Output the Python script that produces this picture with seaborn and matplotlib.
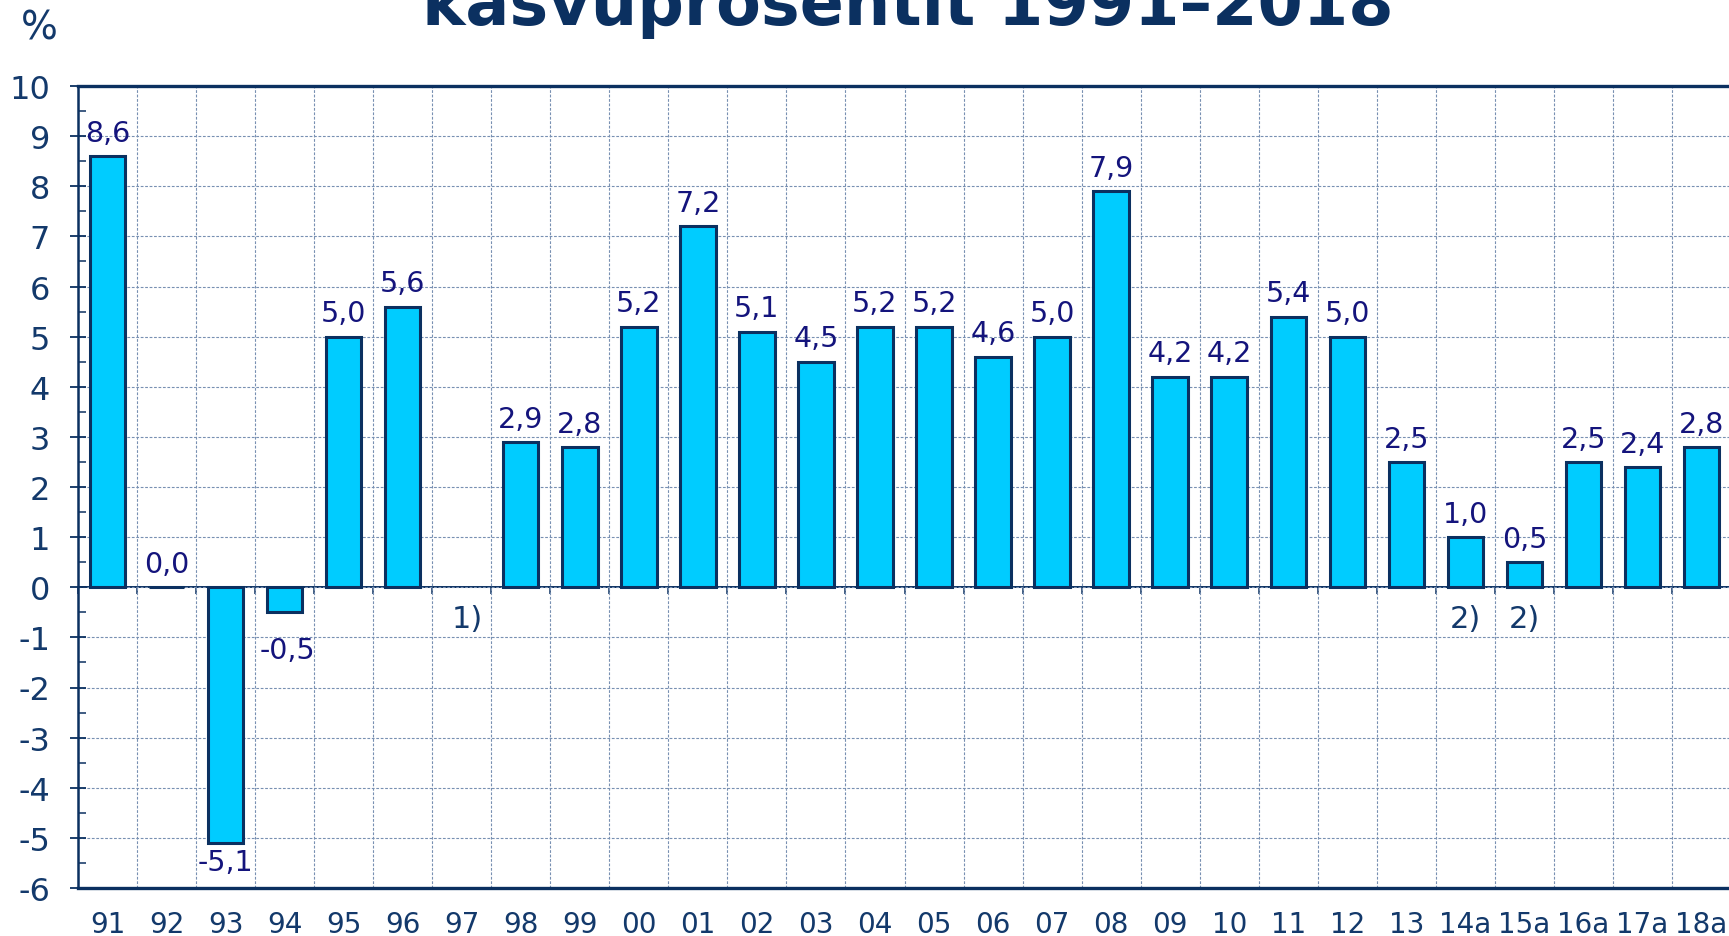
import numpy as np
import pandas as pd
import seaborn as sns
import matplotlib
matplotlib.use("Agg")
import matplotlib.pyplot as plt
from matplotlib.ticker import MultipleLocator, FixedLocator

# ---------------- data ----------------
years = ['91', '92', '93', '94', '95', '96', '97', '98', '99', '00',
         '01', '02', '03', '04', '05', '06', '07', '08', '09', '10',
         '11', '12', '13', '14a', '15a', '16a', '17a', '18a']
growth = [8.6, 0.0, -5.1, -0.5, 5.0, 5.6, np.nan, 2.9, 2.8, 5.2,
          7.2, 5.1, 4.5, 5.2, 5.2, 4.6, 5.0, 7.9, 4.2, 4.2,
          5.4, 5.0, 2.5, 1.0, 0.5, 2.5, 2.4, 2.8]
notes = {'97': '1)', '14a': '2)', '15a': '2)'}
title = 'kasvuprosentit 1991\u20132018'
unit = '%'
y_min, y_max = -6, 10

# ---------------- style ----------------
W, H = 1729, 937
navy = '#0b3060'
tick_c = '#13396b'
val_c = '#14147c'
bar_c = '#00ccff'
grid_c = '#7890b2'

sns.set_theme(style='white')
plt.rcParams['font.family'] = ['DejaVu Sans']
plt.rcParams['axes.unicode_minus'] = False

df = pd.DataFrame({'year': years, 'growth': growth})

fig = plt.figure(figsize=(W / 100, H / 100), dpi=100)
ax = fig.add_axes([78 / W, 1 - 889 / H, 1653 / W, 802 / H])

sns.barplot(data=df, x='year', y='growth', order=years, color=bar_c,
            saturation=1, width=0.6, edgecolor=navy, linewidth=2.2,
            errorbar=None, ax=ax, zorder=3)

n = len(years)
ax.set_xlim(-0.5, n - 0.5)
ax.set_ylim(y_min, y_max)
ax.set_xlabel('')
ax.set_ylabel('')

# y axis
ax.yaxis.set_major_locator(MultipleLocator(1))
ax.yaxis.set_minor_locator(MultipleLocator(0.5))
ax.tick_params(axis='y', which='major', direction='inout', length=12,
               width=1.3, color=navy, labelsize=23, labelcolor=tick_c, pad=14, left=True)
ax.tick_params(axis='y', which='minor', direction='in', length=6,
               width=1.1, color=navy, left=True)

# x axis
ax.set_xticks(range(n))
ax.set_xticklabels(years)
ax.xaxis.set_minor_locator(FixedLocator(np.arange(n + 1) - 0.5))
ax.tick_params(axis='x', which='both', length=0, labelsize=20,
               labelcolor=tick_c, pad=16)

# grid
dash = (0, (2.5, 1.5))
ax.grid(axis='y', which='major', color=grid_c, ls=dash, lw=0.8, zorder=0)
ax.grid(axis='x', which='minor', color=grid_c, ls=dash, lw=0.8, zorder=0)
ax.grid(axis='x', which='major', visible=False)
ax.set_axisbelow(True)

for side, lw in [('top', 2.4), ('bottom', 2.4), ('left', 1.8)]:
    ax.spines[side].set_visible(True)
    ax.spines[side].set_color(navy)
    ax.spines[side].set_linewidth(lw)
ax.spines['right'].set_visible(False)

# zero line with small ticks at category boundaries
zero = ax.secondary_xaxis((0 - y_min) / (y_max - y_min))
zero.set_xticks(np.arange(n + 1) - 0.5)
zero.set_xticklabels([])
zero.tick_params(axis='x', direction='out', length=5, width=1.1, color=navy)
zero.spines['bottom'].set_color(navy)
zero.spines['bottom'].set_linewidth(1.4)
zero.spines['top'].set_visible(False)

# value labels
label_nudge = {'94': (2, -13)}
for i, (yr, v) in enumerate(zip(years, growth)):
    if np.isnan(v):
        continue
    txt = f'{v:.1f}'.replace('.', ',')
    dx, dy = label_nudge.get(yr, (0, 0))
    if v >= 0:
        ax.annotate(txt, (i, v), xytext=(dx, 11 + dy), textcoords='offset points',
                    ha='center', va='baseline', fontsize=20.5, color=val_c, zorder=5)
    else:
        ax.annotate(txt, (i, v), xytext=(dx, -4 + dy), textcoords='offset points',
                    ha='center', va='top', fontsize=20.5, color=val_c, zorder=5)

# footnote markers
for yr, mark in notes.items():
    i = years.index(yr)
    ax.text(i + (0.1 if mark == '1)' else 0), -0.62, mark, ha='center', va='center',
            fontsize=22, color=tick_c, zorder=5)

fig.text(0.525, 1 - 25 / H, title, ha='center', va='baseline', fontsize=47,
         fontweight='bold', color=navy)
fig.text(39 / W, 1 - 28 / H, unit, ha='center', va='center', fontsize=28, color=tick_c)

fig.savefig('out.png', dpi=100)
